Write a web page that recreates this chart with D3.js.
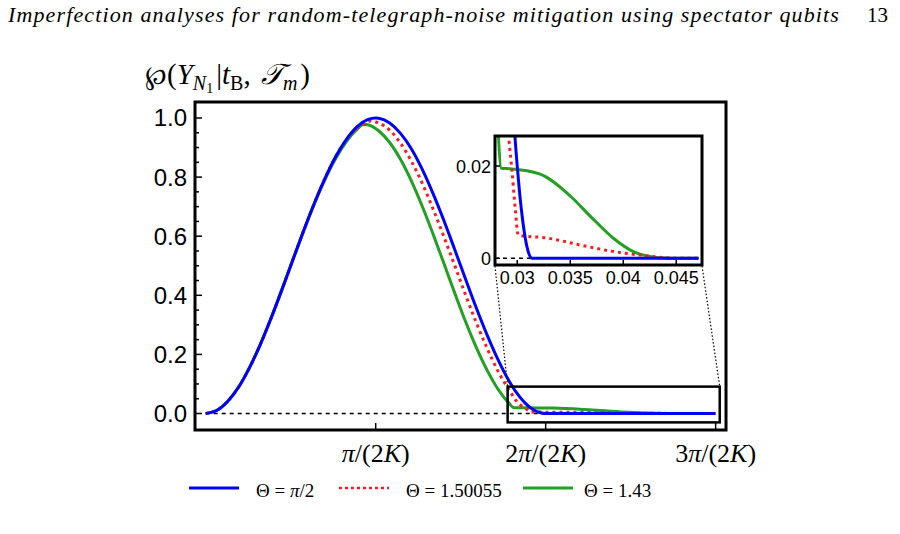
<!DOCTYPE html>
<html>
<head>
<meta charset="utf-8">
<script src="https://cdn.jsdelivr.net/npm/d3@7"></script>
<style>
  body { margin: 0; background: #fff; }
  svg { display: block; }
</style>
</head>
<body>
<svg id="chart" width="900" height="534"></svg>
<script>
// K sets the time unit pi/(2K) on the main x axis
const K = 100;

// Theta = pi/2 (blue)
const blueT = [0, 0.001, 0.002, 0.003, 0.004, 0.005, 0.006, 0.007, 0.008, 0.009, 0.010, 0.011, 0.012, 0.013, 0.014, 0.015, 0.0157, 0.016, 0.017, 0.018, 0.019, 0.020, 0.021, 0.022, 0.023, 0.024, 0.025, 0.026, 0.027, 0.028, 0.029, 0.0295, 0.030, 0.0305, 0.031, 0.0314, 0.0471];
const blueV = [0, 0.010, 0.040, 0.087, 0.152, 0.230, 0.319, 0.415, 0.515, 0.614, 0.708, 0.794, 0.869, 0.928, 0.971, 0.995, 1.0, 0.999, 0.983, 0.948, 0.896, 0.827, 0.745, 0.654, 0.556, 0.456, 0.358, 0.266, 0.183, 0.112, 0.057, 0.036, 0.0199, 0.0084, 0.0017, 0, 0];

// Theta = 1.50055 (red dotted)
const redT = [0, 0.001, 0.002, 0.003, 0.004, 0.005, 0.006, 0.007, 0.008, 0.009, 0.010, 0.011, 0.012, 0.013, 0.014, 0.015, 0.0152, 0.016, 0.017, 0.018, 0.019, 0.020, 0.021, 0.022, 0.023, 0.024, 0.025, 0.026, 0.027, 0.028, 0.029, 0.0292, 0.0295, 0.0298, 0.0301, 0.0328, 0.0359, 0.0390, 0.0416, 0.0441, 0.0450, 0.0471];
const redV = [0, 0.010, 0.040, 0.087, 0.152, 0.230, 0.319, 0.415, 0.515, 0.614, 0.708, 0.794, 0.868, 0.926, 0.965, 0.986, 0.990, 0.983, 0.959, 0.915, 0.854, 0.780, 0.693, 0.599, 0.502, 0.403, 0.308, 0.221, 0.144, 0.082, 0.031, 0.026, 0.019, 0.011, 0.0050, 0.0044, 0.0029, 0.0015, 0.0007, 0.0001, 0, 0];

// Theta = 1.43 (green)
const greenT = [0, 0.001, 0.002, 0.003, 0.004, 0.005, 0.006, 0.007, 0.008, 0.009, 0.010, 0.011, 0.012, 0.013, 0.014, 0.0146, 0.015, 0.016, 0.017, 0.018, 0.019, 0.020, 0.021, 0.022, 0.023, 0.024, 0.025, 0.026, 0.027, 0.028, 0.0285, 0.0293, 0.0321, 0.0350, 0.0369, 0.0391, 0.0410, 0.0425, 0.0435, 0.0445, 0.0471];
const greenV = [0, 0.010, 0.040, 0.087, 0.152, 0.230, 0.319, 0.415, 0.514, 0.612, 0.706, 0.790, 0.862, 0.920, 0.962, 0.979, 0.977, 0.956, 0.917, 0.860, 0.787, 0.702, 0.608, 0.509, 0.409, 0.312, 0.224, 0.147, 0.083, 0.036, 0.0195, 0.0194, 0.0183, 0.0135, 0.0091, 0.0043, 0.0014, 0.0004, 0.0001, 0, 0];

const seriesNames = ["Θ = π/2", "Θ = 1.50055", "Θ = 1.43"];
const seriesColors = ["#0000ff", "#ff1a1a", "#22a022"];

const yTicks = [0, 0.2, 0.4, 0.6, 0.8, 1.0];
const xTickLabels = ["π/(2K)", "2π/(2K)", "3π/(2K)"];
const insetXTicks = [0.03, 0.035, 0.04, 0.045];
const insetYTicks = [0, 0.02];

const svg = d3.select("#chart");
const serif = "Liberation Serif";
const sans = "Liberation Sans";

// page header
const header = svg.append("text")
  .attr("x", 8).attr("y", 22)
  .style("font-family", serif).style("font-style", "italic").style("font-size", "22px")
  .text("Imperfection analyses for random-telegraph-noise mitigation using spectator qubits");
// spread the header to the width it has in the scan
const hw = header.node().getComputedTextLength();
header.style("letter-spacing", ((832 - hw) / 82) + "px");
svg.append("text")
  .attr("x", 867).attr("y", 22)
  .style("font-family", serif).style("font-size", "21px")
  .text("13");

// helper: write text with pi, K and letters in italic
function mathText(sel, str, italicChars) {
  for (const ch of str) {
    sel.append("tspan")
      .style("font-style", italicChars.includes(ch) ? "italic" : "normal")
      .text(ch);
  }
}

// main plot scales
const x = d3.scaleLinear().domain([-0.00099, 0.04808]).range([195, 726]);
const y = d3.scaleLinear().domain([-0.0558, 1.0541]).range([430, 102]);

svg.append("clipPath").attr("id", "mainClip")
  .append("rect").attr("x", 195).attr("y", 102).attr("width", 531).attr("height", 328);

const mainG = svg.append("g").attr("clip-path", "url(#mainClip)");

function makeSeries(ts, vs) {
  return ts.map((t, i) => ({ t: t, v: vs[i] }));
}
const series = [
  makeSeries(greenT, greenV),
  makeSeries(redT, redV),
  makeSeries(blueT, blueV)
];
// draw green, red, then blue on top
const colorsInOrder = [seriesColors[2], seriesColors[1], seriesColors[0]];

// dashed zero line
mainG.append("line")
  .attr("x1", x(0)).attr("x2", x(0.0471))
  .attr("y1", y(0)).attr("y2", y(0))
  .attr("stroke", "#000").attr("stroke-width", 1.5).attr("stroke-dasharray", "4,4");

const lineMain = d3.line().x(d => x(d.t)).y(d => y(d.v)).curve(d3.curveMonotoneX);

series.forEach((s, i) => {
  const p = mainG.append("path")
    .attr("d", lineMain(s))
    .attr("fill", "none")
    .attr("stroke", colorsInOrder[i])
    .attr("stroke-width", 3);
  if (i === 1) p.attr("stroke-dasharray", "3,4");
});

// zoom rectangle on the main plot
svg.append("rect")
  .attr("x", x(0.0279)).attr("y", y(0.091))
  .attr("width", x(0.0475) - x(0.0279)).attr("height", y(-0.030) - y(0.091))
  .attr("fill", "none").attr("stroke", "#000").attr("stroke-width", 2.5);

// main frame
svg.append("rect")
  .attr("x", 195).attr("y", 102).attr("width", 531).attr("height", 328)
  .attr("fill", "none").attr("stroke", "#000").attr("stroke-width", 3);

// y ticks (inward) with minor ticks every 0.05
d3.range(0, 1.0001, 0.05).forEach(v => {
  const major = Math.abs(v * 5 - Math.round(v * 5)) < 1e-6;
  svg.append("line")
    .attr("x1", 195).attr("x2", 195 + (major ? 7 : 4))
    .attr("y1", y(v)).attr("y2", y(v))
    .attr("stroke", "#000").attr("stroke-width", 1.5);
});
yTicks.forEach(v => {
  svg.append("text")
    .attr("x", 187).attr("y", y(v) + 8.5)
    .attr("text-anchor", "end")
    .style("font-family", sans).style("font-size", "24px")
    .text(v.toFixed(1));
});

// x ticks at multiples of pi/(2K)
xTickLabels.forEach((lab, i) => {
  const t = (i + 1) * Math.PI / (2 * K);
  svg.append("line")
    .attr("x1", x(t)).attr("x2", x(t))
    .attr("y1", 430).attr("y2", 423)
    .attr("stroke", "#000").attr("stroke-width", 1.5);
  const txt = svg.append("text")
    .attr("x", x(t)).attr("y", 462)
    .attr("text-anchor", "middle")
    .style("font-family", serif).style("font-size", "26px");
  mathText(txt, lab, ["π", "K"]);
});

// y axis label
const yl = svg.append("text")
  .attr("x", 145).attr("y", 84)
  .style("font-family", serif).style("font-size", "29px");
yl.append("tspan").style("font-family", "DejaVu Serif").style("font-size", "26px").text("℘");
yl.append("tspan").text("(");
yl.append("tspan").style("font-style", "italic").text("Y");
yl.append("tspan").style("font-style", "italic").style("font-size", "20px").attr("dy", 6).text("N");
yl.append("tspan").style("font-size", "14px").attr("dy", 3).text("1");
yl.append("tspan").attr("dy", -9).attr("dx", 3).text("|");
yl.append("tspan").style("font-style", "italic").text("t");
yl.append("tspan").style("font-size", "20px").attr("dy", 6).text("B");
yl.append("tspan").attr("dy", -6).text(", ");
yl.append("tspan").style("font-style", "italic").attr("dx", 3).text("𝒯");
yl.append("tspan").style("font-style", "italic").style("font-size", "20px").attr("dy", 6).text("m");
yl.append("tspan").attr("dy", -6).attr("dx", 3).text(")");

// inset
const xi = d3.scaleLinear().domain([0.0279, 0.04743]).range([495, 702]);
const yi = d3.scaleLinear().domain([-0.00145, 0.0265]).range([265, 136]);

// dotted connector lines
[[0.0279, 495], [0.0475, 702]].forEach(([t, px]) => {
  svg.append("line")
    .attr("x1", px).attr("y1", 266)
    .attr("x2", x(t)).attr("y2", y(0.091))
    .attr("stroke", "#000").attr("stroke-width", 1.2).attr("stroke-dasharray", "1.5,2");
});

svg.append("rect")
  .attr("x", 495).attr("y", 136).attr("width", 207).attr("height", 129)
  .attr("fill", "#fff");

svg.append("clipPath").attr("id", "insetClip")
  .append("rect").attr("x", 495).attr("y", 136).attr("width", 207).attr("height", 129);
const insetG = svg.append("g").attr("clip-path", "url(#insetClip)");

insetG.append("line")
  .attr("x1", xi(0.0279)).attr("x2", xi(0.0471))
  .attr("y1", yi(0)).attr("y2", yi(0))
  .attr("stroke", "#000").attr("stroke-width", 1.5).attr("stroke-dasharray", "4,4");

const lineInset = d3.line().x(d => xi(d.t)).y(d => yi(d.v)).curve(d3.curveMonotoneX);
series.forEach((s, i) => {
  const p = insetG.append("path")
    .attr("d", lineInset(s))
    .attr("fill", "none")
    .attr("stroke", colorsInOrder[i])
    .attr("stroke-width", 3);
  if (i === 1) p.attr("stroke-dasharray", "3,4");
});

svg.append("rect")
  .attr("x", 495).attr("y", 136).attr("width", 207).attr("height", 129)
  .attr("fill", "none").attr("stroke", "#000").attr("stroke-width", 3);

insetXTicks.forEach(v => {
  svg.append("line")
    .attr("x1", xi(v)).attr("x2", xi(v))
    .attr("y1", 265).attr("y2", 260)
    .attr("stroke", "#000").attr("stroke-width", 1.5);
  svg.append("text")
    .attr("x", xi(v)).attr("y", 284)
    .attr("text-anchor", "middle")
    .style("font-family", sans).style("font-size", "18px")
    .text(String(v));
});
insetYTicks.forEach(v => {
  svg.append("line")
    .attr("x1", 495).attr("x2", 500)
    .attr("y1", yi(v)).attr("y2", yi(v))
    .attr("stroke", "#000").attr("stroke-width", 1.5);
  svg.append("text")
    .attr("x", 491).attr("y", yi(v) + 6.5)
    .attr("text-anchor", "end")
    .style("font-family", sans).style("font-size", "18px")
    .text(v === 0 ? "0" : "0.02");
});

// legend
const legendX = [189, 339, 523];
seriesNames.forEach((name, i) => {
  const lx = legendX[i];
  const l = svg.append("line")
    .attr("x1", lx).attr("x2", lx + 50)
    .attr("y1", 488).attr("y2", 488)
    .attr("stroke", seriesColors[i]).attr("stroke-width", 3);
  if (i === 1) l.attr("stroke-dasharray", "3,3").attr("stroke-width", 2.5);
  const txt = svg.append("text")
    .attr("x", lx + (i === 2 ? 61 : 67)).attr("y", 497)
    .style("font-family", serif).style("font-size", "19px");
  mathText(txt, name, ["π"]);
});
</script>
</body>
</html>
